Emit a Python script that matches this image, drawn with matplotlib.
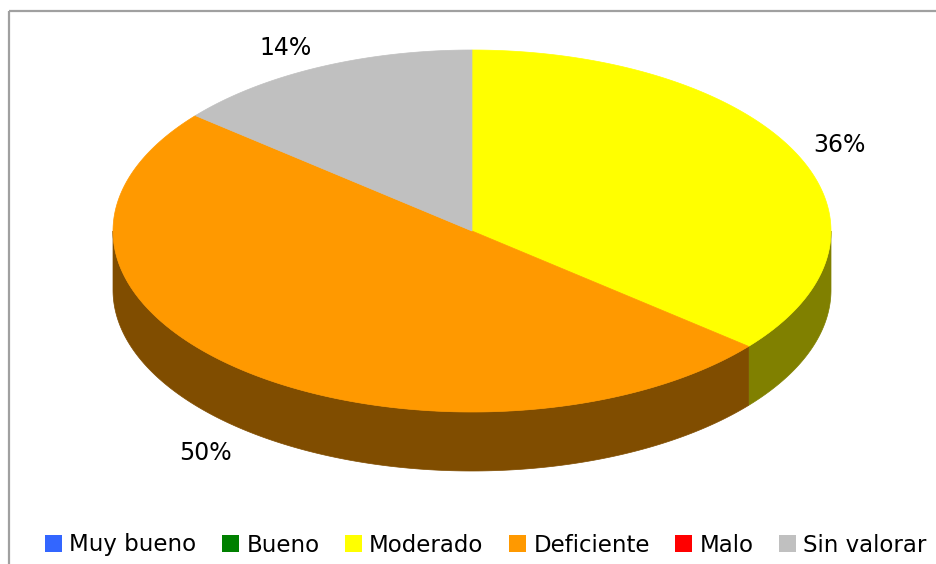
import numpy as np
import matplotlib.pyplot as plt
from matplotlib.patches import Polygon, Patch, Rectangle

categories = ['Muy bueno', 'Bueno', 'Moderado', 'Deficiente', 'Malo', 'Sin valorar']
values = [0, 0, 36, 50, 0, 14]
colors = ['#3366FF', '#008000', '#FFFF00', '#FF9900', '#FF0000', '#C0C0C0']

# pie geometry in pixels (top ellipse + side depth)
cx, cy = 472, 231
rx, ry = 359, 181
depth = 59


def arc(t0, t1, n=200):
    # angles in degrees, clockwise from 12 o'clock
    r = np.radians(np.linspace(t0, t1, n))
    return np.column_stack([cx + rx * np.sin(r), cy - ry * np.cos(r)])


def shade(c, f=0.5):
    rgb = np.array(plt.matplotlib.colors.to_rgb(c))
    return tuple(rgb * f)


fig = plt.figure(figsize=(9.37, 5.64), dpi=100)
ax = fig.add_axes([0, 0, 1, 1])
ax.set_xlim(0, 937)
ax.set_ylim(564, 0)
ax.axis('off')

# chart frame
ax.add_patch(Rectangle((9, 11), 1000, 1000, fill=False, edgecolor='#A0A0A0', lw=1.6))

total = sum(values)
starts = np.cumsum([0] + values[:-1]) / total * 360
ends = np.cumsum(values) / total * 360

# sides (front half only: 90..270 deg)
for v, c, t0, t1 in zip(values, colors, starts, ends):
    if v == 0:
        continue
    a, b = max(t0, 90), min(t1, 270)
    if a >= b:
        continue
    top = arc(a, b)
    bot = top[::-1] + [0, depth]
    ax.add_patch(Polygon(np.vstack([top, bot]), closed=True,
                         facecolor=shade(c), edgecolor=shade(c), lw=0.5))

# top faces
for v, c, t0, t1 in zip(values, colors, starts, ends):
    if v == 0:
        continue
    poly = np.vstack([[cx, cy], arc(t0, t1)])
    ax.add_patch(Polygon(poly, closed=True, facecolor=c, edgecolor=c, lw=0.5))

# percentage labels
for v, t0, t1 in zip(values, starts, ends):
    if v == 0:
        continue
    m = np.radians((t0 + t1) / 2)
    dy = -ry * np.cos(m)
    if dy > 0:
        dy += depth
    x = cx + 1.05 * rx * np.sin(m)
    y = cy + 1.12 * dy
    ax.text(x, y, f'{v / total * 100:.0f}%', ha='left' if np.sin(m) > 0 else 'right',
            va='center', fontsize=17, color='black')

handles = [Patch(facecolor=c, edgecolor='none') for c in colors]
ax.legend(handles, categories, loc='center', bbox_to_anchor=(486 / 937, 1 - 545 / 564),
          ncol=6, frameon=False, fontsize=16.5, handlelength=0.72, handleheight=0.72,
          handletextpad=0.33, columnspacing=1.12, borderpad=0, borderaxespad=0)

fig.savefig('out.png', dpi=100)
